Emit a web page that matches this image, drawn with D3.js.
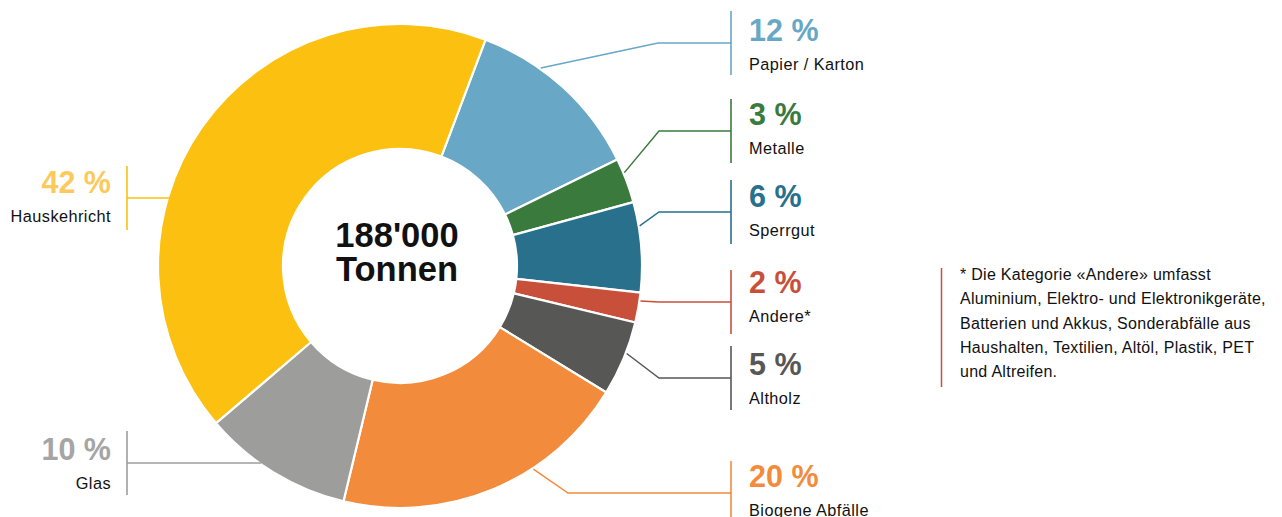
<!DOCTYPE html>
<html>
<head>
<meta charset="utf-8">
<script src="https://cdn.jsdelivr.net/npm/d3@7"></script>
<style>
  html, body { margin: 0; padding: 0; background: #fff; }
  svg { display: block; font-family: "Liberation Sans", Arial, Helvetica, sans-serif; }
</style>
</head>
<body>
<svg id="chart" width="1282" height="517"></svg>
<script>
// ---- data ----
const categories = ["Papier / Karton", "Metalle", "Sperrgut", "Andere*", "Altholz", "Biogene Abfälle", "Glas", "Hauskehricht"];
const shares = [12, 3, 6, 2, 5, 20, 10, 42];
const sliceColors = ["#68a7c6", "#3a7a3c", "#28708c", "#c8503b", "#575756", "#f38b3c", "#9d9d9c", "#fbc010"];
const labelColors = ["#68a7c6", "#3a7a3c", "#28708c", "#c8503b", "#575756", "#f38b3c", "#a5a5a5", "#fcc95b"];
const totalLabel = ["188'000", "Tonnen"];
const footnoteLines = [
  "* Die Kategorie «Andere» umfasst",
  "Aluminium, Elektro- und Elektronikgeräte,",
  "Batterien und Akkus, Sonderabfälle aus",
  "Haushalten, Textilien, Altöl, Plastik, PET",
  "und Altreifen."
];

// ---- layout ----
const cx = 400, cy = 266, rOuter = 242, rInner = 117;
const startDeg = 20.7;
const side = ["r", "r", "r", "r", "r", "r", "l", "l"];
const leaderY = [43, 131, 212, 302, 378, 493, 463, 198];
const pctY = [41, 125, 207, 293, 375, 487, 460, 193];
const leaderDeg = [35.4, 67.4, 80.5, 98.3, 111.1, 146.7, null, null];
const elbowX = [658, 659, 659, 659, 659, 568, null, null];

const svg = d3.select("#chart");
const g = svg.append("g").attr("transform", `translate(${cx},${cy})`);

const pie = d3.pie().sort(null).value(d => d)
  .startAngle(startDeg * Math.PI / 180)
  .endAngle(startDeg * Math.PI / 180 + 2 * Math.PI);
const arcs = pie(shares);
const arc = d3.arc().innerRadius(rInner).outerRadius(rOuter);

g.selectAll("path.slice").data(arcs).enter().append("path")
  .attr("class", "slice")
  .attr("d", arc)
  .attr("fill", (d, i) => sliceColors[i])
  .attr("stroke", "#fff")
  .attr("stroke-width", 2.2)
  .attr("stroke-linejoin", "round");

// center text
g.append("text").attr("text-anchor", "middle").attr("x", -3).attr("y", -19)
  .attr("font-size", 34.5).attr("font-weight", "bold").attr("fill", "#111")
  .text(totalLabel[0]);
g.append("text").attr("text-anchor", "middle").attr("x", -3).attr("y", 15)
  .attr("font-size", 34.5).attr("font-weight", "bold").attr("fill", "#111")
  .text(totalLabel[1]);

// labels & leaders
const rightBarX = 731, rightTextX = 749;
const leftBarX = 127, leftTextX = 111;
const rLead = 243;

categories.forEach((name, i) => {
  const col = sliceColors[i];
  const ly = leaderY[i];
  let pts;
  if (side[i] === "r") {
    const a = leaderDeg[i] * Math.PI / 180;
    const sx = cx + rLead * Math.sin(a), sy = cy - rLead * Math.cos(a);
    pts = [[sx, sy], [elbowX[i], ly], [rightBarX, ly]];
  } else {
    const dy = ly - cy;
    const sx = cx - Math.sqrt(rOuter * rOuter - dy * dy) + 2;
    pts = [[sx, ly], [leftBarX, ly]];
  }
  svg.append("path")
    .attr("d", d3.line()(pts))
    .attr("fill", "none").attr("stroke", col).attr("stroke-width", 1.5);
  const bx = side[i] === "r" ? rightBarX : leftBarX;
  svg.append("line")
    .attr("x1", bx).attr("x2", bx).attr("y1", ly - 32).attr("y2", ly + 32)
    .attr("stroke", col).attr("stroke-width", 1.6);

  const tx = side[i] === "r" ? rightTextX : leftTextX;
  const anchor = side[i] === "r" ? "start" : "end";
  svg.append("text").attr("x", tx).attr("y", pctY[i])
    .attr("text-anchor", anchor).attr("font-size", 30.5).attr("font-weight", "bold")
    .attr("fill", labelColors[i]).text(shares[i] + " %");
  svg.append("text").attr("x", tx).attr("y", pctY[i] + 29)
    .attr("text-anchor", anchor).attr("font-size", 16.3)
    .attr("letter-spacing", 0.45)
    .attr("fill", "#111").text(name);
});

// footnote
svg.append("line").attr("x1", 941.5).attr("x2", 941.5).attr("y1", 268).attr("y2", 387)
  .attr("stroke", "#c8503b").attr("stroke-width", 1.5);
svg.append("text").attr("x", 960).attr("font-size", 16).attr("fill", "#111")
  .attr("letter-spacing", 0.28)
  .selectAll("tspan").data(footnoteLines).enter().append("tspan")
  .attr("x", 960).attr("y", (d, i) => 280 + i * 24.3).text(d => d);
</script>
</body>
</html>
